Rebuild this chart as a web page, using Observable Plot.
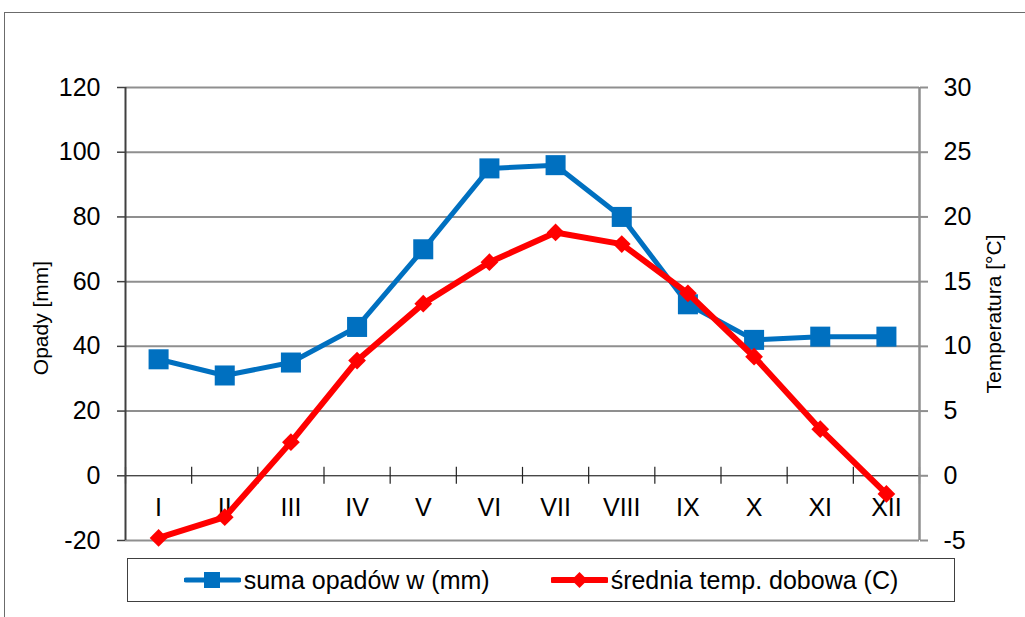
<!DOCTYPE html>
<html>
<head>
<meta charset="utf-8">
<script src="https://cdn.jsdelivr.net/npm/d3@7"></script>
<script src="https://cdn.jsdelivr.net/npm/@observablehq/plot@0.6"></script>
<style>
  html, body { margin: 0; padding: 0; background: #fff; overflow: hidden; }
  #wrap { position: relative; width: 1025px; height: 617px; overflow: hidden; font-family: "Liberation Sans", Arial, sans-serif; }
  #frame { position: absolute; left: 4px; top: 12px; width: 1100px; height: 700px; border: 1px solid #6b6b6b; box-sizing: border-box; }
  #chart { position: absolute; left: 0; top: 0; }
  #legend { position: absolute; left: 127px; top: 558px; width: 828px; height: 44px; box-sizing: border-box; border: 1px solid #404040; display: flex; align-items: center; justify-content: center; gap: 61px; font-size: 25px; color: #000; }
  .item { display: flex; align-items: center; gap: 3px; white-space: nowrap; }
  .item svg { display: block; }
</style>
</head>
<body>
<div id="wrap">
  <div id="frame"></div>
  <div id="chart"></div>
  <div id="legend"></div>
</div>
<script>
// ---- data ----
const months = ["I", "II", "III", "IV", "V", "VI", "VII", "VIII", "IX", "X", "XI", "XII"];
const rain = [36, 31, 35, 46, 70, 95, 96, 80, 53, 42, 43, 43];          // mm
const temp = [-4.8, -3.2, 2.6, 8.9, 13.3, 16.5, 18.8, 17.9, 14.1, 9.2, 3.6, -1.4]; // °C
const leftTicks = [-20, 0, 20, 40, 60, 80, 100, 120];
const rightTicks = [-5, 0, 5, 10, 15, 20, 25, 30];
const seriesNames = ["suma opadów w (mm)", "średnia temp. dobowa (C)"];
const leftTitle = "Opady [mm]";
const rightTitle = "Temperatura [°C]";

const blue = "#0070C0";
const red = "#FF0000";
const grid = "#8f8f8f";
const k = 4; // 1 °C on right axis = 4 mm on left axis

const data = months.map((m, i) => ({m, i, rain: rain[i], temp: temp[i]}));

const chart = Plot.plot({
  width: 1025,
  height: 557,
  marginLeft: 125,
  marginRight: 106,
  marginTop: 87,
  marginBottom: 17,
  style: {background: "transparent", fontFamily: "Liberation Sans, Arial, sans-serif", fontSize: "25px", color: "#000", overflow: "visible"},
  x: {type: "linear", domain: [0, 12], axis: null},
  y: {domain: [-20, 120], axis: null},
  marks: [
    Plot.ruleY(leftTicks.filter(d => d !== 0), {stroke: grid, strokeWidth: 2}),
    Plot.ruleY([0], {stroke: "#000", strokeWidth: 1}),
    Plot.ruleX(d3.range(13), {x: d => d, y1: -2.6, y2: 2.6, stroke: "#222", strokeWidth: 1.2}),
    Plot.ruleX([0], {stroke: "#404040", strokeWidth: 2}),
    Plot.ruleX([12], {stroke: grid, strokeWidth: 2.5}),
    Plot.axisY({anchor: "left", ticks: leftTicks, tickFormat: d => String(d), tickSize: 8, tickPadding: 17, stroke: "#404040", strokeWidth: 1.5, label: null, fontSize: 25}),
    Plot.axisY({anchor: "right", ticks: rightTicks.map(t => t * k), tickFormat: d => String(d / k), tickSize: 8, tickPadding: 16, stroke: grid, strokeWidth: 2, label: null, fontSize: 25}),
    Plot.text(data, {x: d => d.i + 0.5, y: 0, text: "m", dy: 32, fontSize: 25, fill: "#000"}),
    Plot.text([leftTitle], {frameAnchor: "left", textAnchor: "middle", dx: -84, dy: 4, rotate: -90, fontSize: 21, fill: "#000"}),
    Plot.text([rightTitle], {frameAnchor: "right", textAnchor: "middle", dx: 75, rotate: -90, fontSize: 21, fill: "#000"}),
    Plot.line(data, {x: d => d.i + 0.5, y: "rain", stroke: blue, strokeWidth: 5}),
    Plot.dot(data, {x: d => d.i + 0.5, y: "rain", symbol: "square", r: 11.3, fill: blue, stroke: null}),
    Plot.line(data, {x: d => d.i + 0.5, y: d => d.temp * k, stroke: red, strokeWidth: 6}),
    Plot.dot(data, {x: d => d.i + 0.5, y: d => d.temp * k, symbol: "diamond2", r: 8, fill: red, stroke: null})
  ]
});
document.getElementById("chart").appendChild(chart);

// legend
function swatch(color, shape, lw) {
  const ns = "http://www.w3.org/2000/svg";
  const s = document.createElementNS(ns, "svg");
  s.setAttribute("width", 57); s.setAttribute("height", 20);
  const l = document.createElementNS(ns, "line");
  l.setAttribute("x1", 2); l.setAttribute("x2", 55); l.setAttribute("y1", 10); l.setAttribute("y2", 10);
  l.setAttribute("stroke", color); l.setAttribute("stroke-width", lw); l.setAttribute("stroke-linecap", "round");
  s.appendChild(l);
  const p = document.createElementNS(ns, "path");
  p.setAttribute("d", shape === "square" ? "M20,2h16v16h-16z" : "M28.5,2l8,8l-8,8l-8,-8z");
  p.setAttribute("fill", color);
  s.appendChild(p);
  return s;
}
const legend = document.getElementById("legend");
[[blue, "square", 5], [red, "diamond", 6]].forEach(([c, sh, lw], i) => {
  const it = document.createElement("div");
  it.className = "item";
  it.appendChild(swatch(c, sh, lw));
  const t = document.createElement("span");
  t.textContent = seriesNames[i];
  it.appendChild(t);
  legend.appendChild(it);
});
</script>
</body>
</html>
